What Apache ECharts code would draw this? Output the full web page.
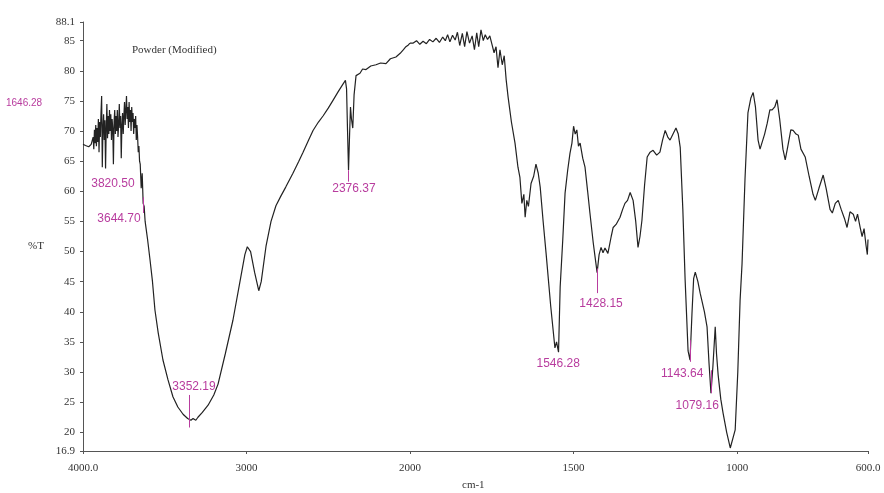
<!DOCTYPE html>
<html>
<head>
<meta charset="utf-8">
<script src="https://cdn.jsdelivr.net/npm/echarts@6/dist/echarts.min.js"></script>
<style>
html,body{margin:0;padding:0;background:#fff;}
#chart{width:884px;height:493px;}
</style>
</head>
<body>
<div id="chart"></div>
<script>
// ---- Data (wavenumber cm-1, %T) ----
var wavenumbers = [4000,3985,3965,3950,3942,
3938,3934,3930,3926,3922,3918,3914,3910,3906,3902,3898,3894,3890,3886,3882,3878,3874,3870,3866,3862,3858,3854,3850,3846,3842,3838,3834,3830,3826,3822,3818,3814,3810,3806,3802,3798,3794,3790,3786,3782,3778,3774,3770,3766,3762,3758,3754,3750,3746,3742,3738,3734,3730,3726,3722,3718,3714,3710,3706,3702,3698,3694,3690,3686,3682,3678,3674,3670,3666,3662,3658,3654,3650,
3644,3638,3632,3626,3620,3605,3590,3575,3560,3540,3511,3480,3450,3420,3388,3360,3340,3327,3310,3297,3270,3235,3200,3174,3130,3083,3040,3010,2995,2975,2950,2925,2910,2880,2850,2820,2790,2760,2716,2680,2654,2620,2593,2560,2532,2500,2471,2440,2410,2395,2388,2382,2376,2370,2364,2358,2350,2342,2330,2306,2290,2269,2240,2208,2180,2147,2120,2086,2060,2040,2025,2010,2000,
1990,1980,1970,1960,1950,1940,1930,1920,1910,1900,1892,1885,1878,1870,1862,1855,1848,1840,1833,1826,1818,1810,1803,1796,1790,1783,1776,1770,1763,1756,1750,1743,1737,1731,1725,1718,1712,1706,1700,1690,1679,1670,1664,1658,1652,1648,1643,1638,1630,1622,1615,1608,1602,1593,1584,1570,1557,1552,1546,1541,1533,1526,1518,1511,1505,1500,1495,1490,1485,1480,1472,1465,1457,1450,1440,1434,1428,1422,1416,1410,1404,1398,1395,1385,1379,1370,1358,1350,1343,1335,1327,1318,1310,1303,1297,1291,1283,1275,1266,1257,1246,1236,1228,1220,1212,1205,1196,1187,1180,1174,1166,1159,1150,1144,1138,1133,1128,1120,1113,1100,1092,1086,1080,1074,1067,1063,1058,1050,1043,1032,1021,1015,1006,998,991,985,976,967,958,951,944,936,930,924,916,908,900,893,885,878,870,860,853,845,836,829,820,813,805,792,780,768,761,750,737,728,716,709,700,691,682,672,664,655,645,638,632,624,618,612,606,602,600];
var transmittance = [67.8,67.6,67.4,67.8,67.5,
69.0,67.0,70.2,68.0,71.0,67.5,70.5,68.2,72.0,66.5,71.5,69.0,73.0,75.8,64.0,70.5,72.8,68.5,71.8,63.8,70.5,74.5,68.8,72.5,69.5,73.5,70.0,72.8,68.5,72.0,70.5,64.5,71.5,73.5,69.5,72.5,70.0,73.5,69.0,71.0,74.5,70.5,72.5,65.5,71.0,73.0,69.5,72.5,74.8,71.0,73.5,75.8,72.0,74.0,70.5,74.8,71.5,73.5,70.0,74.0,71.5,73.0,69.5,72.0,70.5,72.5,68.5,71.0,69.0,66.5,67.5,65.0,64.5,
60.5,63.0,58.0,57.5,55.0,52.0,48.6,45.0,40.3,36.5,32.0,28.7,25.9,24.2,23.0,22.3,22.0,22.3,22.0,22.5,23.3,24.5,26.2,28.0,33.0,38.6,45.0,49.5,50.8,50.0,46.5,43.5,45.0,51.0,55.0,57.6,59.2,60.7,63.0,65.0,66.5,68.5,70.1,71.5,72.5,73.8,75.1,76.5,77.8,78.4,77.0,70.0,63.5,69.0,74.0,72.0,70.5,76.0,79.2,79.6,80.3,80.2,80.8,81.0,81.3,81.2,82.0,82.3,82.9,83.5,84.0,84.3,84.6,
84.6,85.0,84.4,84.9,84.5,85.2,84.8,85.4,84.7,85.6,85.0,86.0,84.8,85.9,85.1,86.4,84.2,86.2,84.0,86.5,84.6,85.8,83.5,86.3,84.0,86.8,85.0,86.0,85.2,85.8,84.5,83.0,84.0,80.5,83.5,81.0,82.5,78.5,75.6,71.5,68.0,64.0,62.3,58.0,59.5,55.7,58.5,57.5,61.3,62.5,64.5,63.0,60.7,55.0,49.7,41.0,34.0,35.0,33.3,44.1,52.0,59.7,63.5,66.3,68.0,70.8,69.5,70.2,67.5,68.0,65.5,64.0,60.0,56.4,51.5,49.0,46.5,49.5,50.7,49.8,50.6,50.7,49.7,52.5,54.0,54.5,55.7,57.0,58.0,58.5,59.8,58.5,55.0,50.7,52.5,55.2,61.0,65.7,66.5,66.8,66.0,66.5,68.5,70.1,69.0,68.5,69.5,70.5,69.5,67.3,57.0,45.3,33.5,32.0,39.8,45.5,46.6,45.0,43.1,40.0,37.5,31.5,26.5,31.0,37.5,33.0,29.5,25.5,23.2,20.0,17.4,17.2,20.4,30.0,41.9,48.0,62.0,73.0,75.5,76.4,74.0,68.5,67.0,66.8,69.5,71.3,73.5,73.5,74.0,75.2,72.0,67.0,65.2,67.5,70.2,70.1,69.5,69.3,67.0,65.7,62.5,59.5,58.5,60.5,62.7,60.5,57.0,56.4,58.0,58.5,57.0,55.5,54.0,56.6,56.2,55.0,56.2,54.0,52.5,53.8,51.0,49.5,52.0];

// tick labels
var yTicks = [16.9,20,25,30,35,40,45,50,55,60,65,70,75,80,85,88.1];
var xTicksHigh = [2000,3000,4000];
var xTicksLow = [600,1000,1500];

// peak annotations: label text and where the label sits (wavenumber, %T)
var peakText = ['3820.50','3644.70','3352.19','2376.37','1546.28','1428.15','1143.64','1079.16'];
var peakLabelWn = [3817,3780,3321,2343,1547,1416,1168,1122];
var peakLabelT = [61.3,55.5,27.6,60.5,31.4,41.4,29.8,24.4];
// short marker lines (wavenumber, top %T, bottom %T)
var markWn = [3633,3352,2376,1428,1144,1079];
var markTop = [59.0,26.2,63.5,47.2,35.3,30.3];
var markBottom = [56.4,20.8,61.6,43.1,31.7,26.5];

var MAGENTA = '#b83c9e';
var highData = [], lowData = [];
for (var i = 0; i < wavenumbers.length; i++) {
  if (wavenumbers[i] >= 2000) highData.push([wavenumbers[i], transmittance[i]]);
  if (wavenumbers[i] <= 2000) lowData.push([wavenumbers[i], transmittance[i]]);
}
function marks(high) {
  var pts = [], lines = [];
  for (var i = 0; i < peakText.length; i++) {
    if ((peakLabelWn[i] >= 2000) === high) {
      pts.push({coord: [peakLabelWn[i], peakLabelT[i]], value: peakText[i]});
    }
  }
  for (var j = 0; j < markWn.length; j++) {
    if ((markWn[j] >= 2000) === high) {
      lines.push([{coord: [markWn[j], markTop[j]]}, {coord: [markWn[j], markBottom[j]]}]);
    }
  }
  return {
    markPoint: {
      symbol: 'circle', symbolSize: 1, silent: true,
      itemStyle: {color: 'rgba(0,0,0,0)'},
      label: {show: true, position: 'inside', formatter: '{c}', color: MAGENTA,
        fontFamily: 'Liberation Sans', fontSize: 12},
      data: pts
    },
    markLine: {
      symbol: 'none', silent: true, label: {show: false},
      lineStyle: {color: MAGENTA, width: 1, type: 'solid'},
      data: lines
    }
  };
}

var axisFont = {fontFamily: 'Liberation Serif', fontSize: 11, color: '#333'};
function xLabelFmt(v) {
  if (v === 4000) return '4000.0';
  if (v === 600) return '600.0';
  return String(v);
}
var chart = echarts.init(document.getElementById('chart'), null, {renderer: 'canvas'});
var hi = marks(true), lo = marks(false);
chart.setOption({
  animation: false,
  backgroundColor: '#ffffff',
  grid: [
    {left: 83, top: 22, width: 327, bottom: 42},
    {left: 410, top: 22, width: 458, bottom: 42}
  ],
  xAxis: [
    {type: 'value', gridIndex: 0, min: 2000, max: 4000, inverse: true,
     axisLine: {lineStyle: {color: '#555', width: 1}},
     axisTick: {show: true, length: 3, inside: false, customValues: xTicksHigh, lineStyle: {color: '#555'}},
     axisLabel: Object.assign({margin: 12, customValues: xTicksHigh, formatter: xLabelFmt}, axisFont),
     splitLine: {show: false}},
    {type: 'value', gridIndex: 1, min: 600, max: 2000, inverse: true,
     axisLine: {lineStyle: {color: '#555', width: 1}},
     axisTick: {show: true, length: 3, customValues: xTicksLow, lineStyle: {color: '#555'}},
     axisLabel: Object.assign({margin: 12, customValues: xTicksLow, formatter: xLabelFmt}, axisFont),
     splitLine: {show: false}}
  ],
  yAxis: [
    {type: 'value', gridIndex: 0, min: 16.9, max: 88.1,
     axisLine: {show: true, lineStyle: {color: '#555', width: 1}},
     axisTick: {show: true, length: 3, customValues: yTicks, lineStyle: {color: '#555'}},
     axisLabel: Object.assign({margin: 8, customValues: yTicks, formatter: function (v) { return String(v); }}, axisFont),
     splitLine: {show: false}},
    {type: 'value', gridIndex: 1, min: 16.9, max: 88.1, show: false, splitLine: {show: false}}
  ],
  series: [
    Object.assign({type: 'line', xAxisIndex: 0, yAxisIndex: 0, data: highData, showSymbol: false,
      lineStyle: {color: '#222', width: 1.2}, silent: true}, hi),
    Object.assign({type: 'line', xAxisIndex: 1, yAxisIndex: 1, data: lowData, showSymbol: false,
      lineStyle: {color: '#222', width: 1.2}, silent: true}, lo)
  ],
  graphic: [
    {type: 'text', left: 132, top: 45, style: {text: 'Powder (Modified)', font: '11px "Liberation Serif"', fill: '#333'}},
    {type: 'text', left: 28, top: 241, style: {text: '%T', font: '11px "Liberation Serif"', fill: '#333'}},
    {type: 'text', left: 462, top: 480, style: {text: 'cm-1', font: '11px "Liberation Serif"', fill: '#333'}},
    {type: 'text', left: 6, top: 98, style: {text: '1646.28', font: '10px "Liberation Sans"', fill: MAGENTA}}
  ]
});
</script>
</body>
</html>
